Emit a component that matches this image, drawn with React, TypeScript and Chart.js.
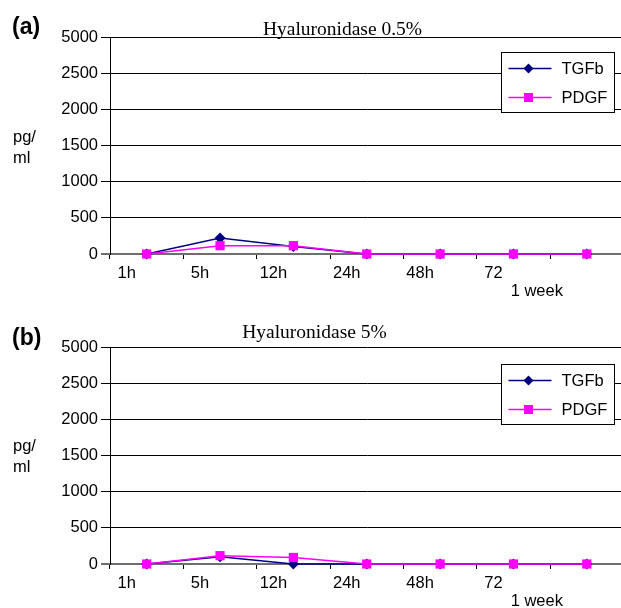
import React, { useEffect, useRef } from 'react';
import { Chart, registerables } from 'chart.js';

Chart.register(...registerables);

// ---------- data ----------
const categories = ['1h', '5h', '12h', '24h', '48h', '72', '1 week'];
const xTickLabels = ['1h', '5h', '12h', '24h', '48h', '72', ''];
const xSecondLineLabels = ['', '', '', '', '', '', '1 week'];
const yTickValues = [0, 500, 1000, 1500, 2000, 2500, 3000];
const yTickLabels = ['0', '500', '1000', '1500', '2000', '2500', '5000'];
const seriesNames = ['TGFb', 'PDGF'];
const seriesColors = ['#000080', '#FF00FF'];

const tgfbA = [0, 220, 105, 0, 0, 0, 0];
const pdgfA = [0, 115, 115, 0, 0, 0, 0];
const tgfbB = [0, 100, 0, 0, 0, 0, 0];
const pdgfB = [0, 115, 90, 0, 0, 0, 0];

const titles = ['Hyaluronidase 0.5%', 'Hyaluronidase 5%'];
const panelLetters = ['(a)', '(b)'];
const yAxisLabel = ['pg/', 'ml'];

const SANS = '"Liberation Sans", Arial, sans-serif';
const SERIF = '"Liberation Serif", "Times New Roman", serif';

type Cfg = {
  height: number;
  padBottom: number;
  titleX: number;
  titleBaseline: number;
  letterBaseline: number;
  yLabelBaseline: number;
  legendTop: number;
};

function drawMarker(ctx: CanvasRenderingContext2D, kind: string, x: number, y: number) {
  ctx.beginPath();
  if (kind === 'diamond') {
    const r = 5;
    ctx.moveTo(x, y - r);
    ctx.lineTo(x + r, y);
    ctx.lineTo(x, y + r);
    ctx.lineTo(x - r, y);
    ctx.closePath();
  } else {
    const s = 4.5;
    ctx.rect(x - s, y - s, 2 * s, 2 * s);
  }
  ctx.fill();
}

function Panel(props: { tgfb: number[]; pdgf: number[]; title: string; letter: string; cfg: Cfg; top: number }) {
  const { tgfb, pdgf, title, letter, cfg, top } = props;
  const ref = useRef<HTMLCanvasElement>(null);

  useEffect(() => {
    if (!ref.current) return;
    const textPlugin = {
      id: 'panelText',
      afterDraw(chart: any) {
        const ctx: CanvasRenderingContext2D = chart.ctx;
        const ca = chart.chartArea;
        ctx.save();
        ctx.fillStyle = '#000';
        ctx.textAlign = 'left';
        ctx.textBaseline = 'alphabetic';
        ctx.font = `bold 23px ${SANS}`;
        ctx.fillText(letter, 12, cfg.letterBaseline);

        ctx.font = `19.5px ${SERIF}`;
        ctx.textAlign = 'center';
        ctx.fillText(title, cfg.titleX, cfg.titleBaseline);

        ctx.font = `16.5px ${SANS}`;
        ctx.textAlign = 'left';
        yAxisLabel.forEach((t, i) => ctx.fillText(t, 13, cfg.yLabelBaseline + i * 21));

        // legend
        const bx = 501.5;
        const by = Math.round(ca.top + cfg.legendTop) + 0.5;
        const bw = 113;
        const bh = 60;
        ctx.fillStyle = '#fff';
        ctx.fillRect(bx, by, bw, bh);
        ctx.strokeStyle = '#000';
        ctx.lineWidth = 1;
        ctx.strokeRect(bx, by, bw, bh);
        chart.data.datasets.forEach((ds: any, i: number) => {
          const y = by + 16 + i * 29;
          ctx.strokeStyle = ds.borderColor;
          ctx.lineWidth = 1.5;
          ctx.beginPath();
          ctx.moveTo(bx + 7, y);
          ctx.lineTo(bx + 50, y);
          ctx.stroke();
          ctx.fillStyle = ds.backgroundColor;
          drawMarker(ctx, i === 0 ? 'diamond' : 'square', bx + 27, y);
          ctx.fillStyle = '#000';
          ctx.font = `16.5px ${SANS}`;
          ctx.textAlign = 'left';
          ctx.textBaseline = 'middle';
          ctx.fillText(ds.label, bx + 60, y + 1);
        });
        ctx.restore();
      },
    };

    const chart = new Chart(ref.current, {
      type: 'line',
      data: {
        labels: categories,
        datasets: [
          {
            label: seriesNames[0],
            data: tgfb,
            borderColor: seriesColors[0],
            backgroundColor: seriesColors[0],
            pointStyle: 'rectRot',
            pointRadius: 5.5,
            pointBorderWidth: 0,
            borderWidth: 1.5,
            order: 2,
            clip: false as any,
          },
          {
            label: seriesNames[1],
            data: pdgf,
            borderColor: seriesColors[1],
            backgroundColor: seriesColors[1],
            pointStyle: 'rect',
            pointRadius: 6.5,
            pointBorderWidth: 0,
            borderWidth: 1.5,
            order: 1,
            clip: false as any,
          },
        ],
      },
      options: {
        animation: false,
        responsive: false,
        devicePixelRatio: 1,
        layout: { padding: { top: 37, left: 0, right: 0, bottom: cfg.padBottom } },
        plugins: {
          legend: { display: false },
          title: { display: false },
          tooltip: { enabled: false },
        },
        scales: {
          x: {
            type: 'category',
            offset: true,
            grid: { offset: true, drawOnChartArea: false, drawTicks: true, tickLength: 5, color: '#000' },
            border: { color: '#6e6e6e', width: 2 },
            ticks: {
              font: { size: 16.5, family: SANS },
              color: '#000',
              padding: 5,
              labelOffset: -20,
              autoSkip: false,
              maxRotation: 0,
              callback: (_v: any, i: number) => xTickLabels[i],
            },
            afterFit: (s: any) => {
              s.height = 28;
            },
          },
          x2: {
            type: 'category',
            position: 'bottom',
            labels: xSecondLineLabels,
            offset: true,
            grid: { display: false, drawTicks: false },
            border: { display: false },
            ticks: {
              font: { size: 16.5, family: SANS },
              color: '#000',
              padding: 0,
              labelOffset: -50,
              autoSkip: false,
              maxRotation: 0,
            },
            afterFit: (s: any) => {
              s.height = 16;
            },
          },
          y: {
            type: 'linear',
            min: yTickValues[0],
            max: yTickValues[yTickValues.length - 1],
            afterBuildTicks: (s: any) => {
              s.ticks = yTickValues.map((v) => ({ value: v }));
            },
            ticks: {
              font: { size: 16.5, family: SANS },
              color: '#000',
              padding: 3,
              callback: (_v: any, i: number) => yTickLabels[i],
            },
            grid: {
              color: (c: any) => (c.index === 0 ? '#6e6e6e' : '#000'),
              lineWidth: (c: any) => (c.index === 0 ? 2 : 1),
              tickLength: 9,
            },
            border: { color: '#000', width: 1 },
            afterFit: (s: any) => {
              s.width = 110;
            },
          },
        },
      } as any,
      plugins: [textPlugin],
    });
    return () => chart.destroy();
  }, []);

  return (
    <div style={{ position: 'absolute', left: 0, top, width: 630, height: cfg.height }}>
      <canvas ref={ref} width={630} height={cfg.height} style={{ display: 'block' }} />
    </div>
  );
}

const cfgA: Cfg = {
  height: 300,
  padBottom: 2,
  titleX: 342.5,
  titleBaseline: 35,
  letterBaseline: 34,
  yLabelBaseline: 142,
  legendTop: 15,
};
const cfgB: Cfg = {
  height: 298,
  padBottom: 0,
  titleX: 314.5,
  titleBaseline: 28,
  letterBaseline: 34.5,
  yLabelBaseline: 141,
  legendTop: 17,
};

export default function App() {
  return (
    <div
      style={{
        position: 'absolute',
        left: 0,
        top: 0,
        width: 621,
        height: 608,
        overflow: 'hidden',
        background: '#fff',
      }}
    >
      <Panel tgfb={tgfbA} pdgf={pdgfA} title={titles[0]} letter={panelLetters[0]} cfg={cfgA} top={0} />
      <Panel tgfb={tgfbB} pdgf={pdgfB} title={titles[1]} letter={panelLetters[1]} cfg={cfgB} top={310} />
    </div>
  );
}
